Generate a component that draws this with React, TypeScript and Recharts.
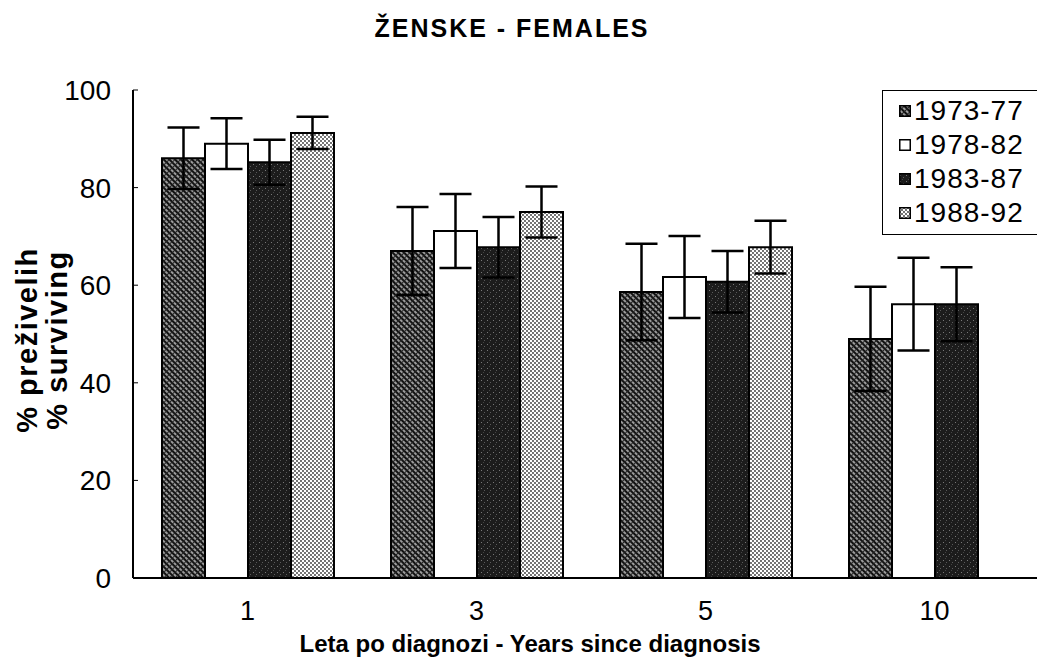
import { BarChart, Bar, XAxis, YAxis, ErrorBar, Legend, Label } from "recharts";

const FONT = '"Liberation Sans", Arial, sans-serif';

const categories = ["1", "3", "5", "10"];
const seriesNames = ["1973-77", "1978-82", "1983-87", "1988-92"];
const values7377 = [86, 67, 58.6, 49];
const errors7377 = [6.3, 9, 9.9, 10.7];
const values7882 = [89, 71.1, 61.7, 56.1];
const errors7882 = [5.2, 7.6, 8.4, 9.5];
const values8387 = [85.2, 67.8, 60.7, 56.1];
const errors8387 = [4.6, 6.2, 6.3, 7.6];
const values8892 = [91.2, 75, 67.8, null];
const errors8892 = [3.3, 5.2, 5.4, null];
const yTicks = [0, 20, 40, 60, 80, 100];

const seriesValues = [values7377, values7882, values8387, values8892];
const seriesErrors = [errors7377, errors7882, errors8387, errors8892];
const fills = ["url(#pat7377)", "#ffffff", "url(#pat8387)", "url(#pat8892)"];

const data = categories.map((year, i) => {
  const row: Record<string, string | number | null> = { year };
  seriesValues.forEach((vals, s) => {
    row[`v${s}`] = vals[i];
    row[`e${s}`] = seriesErrors[s][i];
  });
  return row;
});

function LegendBox() {
  return (
    <div
      style={{
        border: "1.5px solid #000",
        background: "#fff",
        padding: "3px 0 4px 16px",
        fontFamily: FONT,
        fontSize: 28,
        letterSpacing: 1,
        lineHeight: "34px",
        color: "#000",
      }}
    >
      {seriesNames.map((name, i) => (
        <div key={name} style={{ display: "flex", alignItems: "center" }}>
          <svg width={12} height={12} style={{ marginRight: 3 }}>
            <rect x={0.75} y={0.75} width={10.5} height={10.5} fill={fills[i]} stroke="#000" strokeWidth={1.5} />
          </svg>
          <span>{name}</span>
        </div>
      ))}
    </div>
  );
}

function YTitle() {
  return (
    <g fontFamily={FONT} fontWeight="bold" fontSize={29} letterSpacing={1.5} fill="#000">
      <text transform="translate(37,340) rotate(-90)" textAnchor="middle">% preživelih</text>
      <text transform="translate(67,340) rotate(-90)" textAnchor="middle">% surviving</text>
    </g>
  );
}

export default function App() {
  return (
    <div style={{ position: "fixed", left: 0, top: 0, width: 1037, height: 662, overflow: "hidden", background: "#fff" }}>
      <div
        style={{
          position: "absolute",
          top: 14,
          left: 0,
          width: 1024,
          textAlign: "center",
          fontFamily: FONT,
          fontWeight: "bold",
          fontSize: 25,
          letterSpacing: 2,
        }}
      >
        ŽENSKE - FEMALES
      </div>
      <BarChart
        width={1080}
        height={662}
        data={data}
        margin={{ top: 90, right: 31, bottom: 0, left: 0 }}
        barGap={0}
        barCategoryGap={29}
      >
        <defs>
          <pattern id="pat7377" width="4" height="4" patternUnits="userSpaceOnUse" patternTransform="rotate(45)">
            <rect width="4" height="4" fill="#9a9a9a" />
            <rect width="4" height="2" fill="#111" />
            <rect x="0" y="0" width="1" height="4" fill="#222" />
          </pattern>
          <pattern id="pat8387" width="6" height="6" patternUnits="userSpaceOnUse">
            <rect width="6" height="6" fill="#1c1c1c" />
            <rect x="1" y="2" width="1" height="1" fill="#777" />
            <rect x="4" y="4" width="1" height="1" fill="#5a5a5a" />
            <rect x="3" y="0" width="1" height="1" fill="#444" />
          </pattern>
          <pattern id="pat8892" width="4" height="4" patternUnits="userSpaceOnUse">
            <rect width="4" height="4" fill="#fff" />
            <circle cx="1" cy="1" r="0.9" fill="#333" />
            <circle cx="3" cy="3" r="0.9" fill="#333" />
          </pattern>
        </defs>
        <XAxis
          dataKey="year"
          height={84}
          axisLine={{ stroke: "#000", strokeWidth: 2 }}
          tickLine={false}
          tickSize={0}
          tickMargin={23}
          tick={{ fill: "#000", fontSize: 27, fontFamily: FONT }}
        >
          <Label
            content={({ viewBox }: any) => (
              <text
                x={viewBox.x + 397}
                y={652}
                textAnchor="middle"
                fontFamily={FONT}
                fontWeight="bold"
                fontSize={24}
                fill="#000"
              >
                Leta po diagnozi - Years since diagnosis
              </text>
            )}
          />
        </XAxis>
        <XAxis
          xAxisId="top"
          orientation="top"
          dataKey="year"
          height={0}
          tick={false}
          tickLine={false}
          axisLine={{ stroke: "#000", strokeWidth: 2 }}
        />
        <YAxis
          width={133}
          domain={[0, 100]}
          ticks={yTicks}
          interval={0}
          axisLine={{ stroke: "#000", strokeWidth: 2 }}
          tickLine={{ stroke: "#000", strokeWidth: 1 }}
          tickSize={-5}
          tickMargin={27}
          tick={{ fill: "#000", fontSize: 28, fontFamily: FONT }}
        >
          <Label content={() => <YTitle />} />
        </YAxis>
        <Legend
          layout="vertical"
          align="center"
          verticalAlign="middle"
          wrapperStyle={{ left: 882, top: 90, width: 170 }}
          content={() => <LegendBox />}
        />
        {seriesNames.map((name, s) => (
          <Bar
            key={name}
            name={name}
            dataKey={`v${s}`}
            fill={fills[s]}
            stroke="#000"
            strokeWidth={2}
            isAnimationActive={false}
          >
            <ErrorBar dataKey={`e${s}`} direction="y" width={16} stroke="#000" strokeWidth={2.5} />
          </Bar>
        ))}
      </BarChart>
    </div>
  );
}
